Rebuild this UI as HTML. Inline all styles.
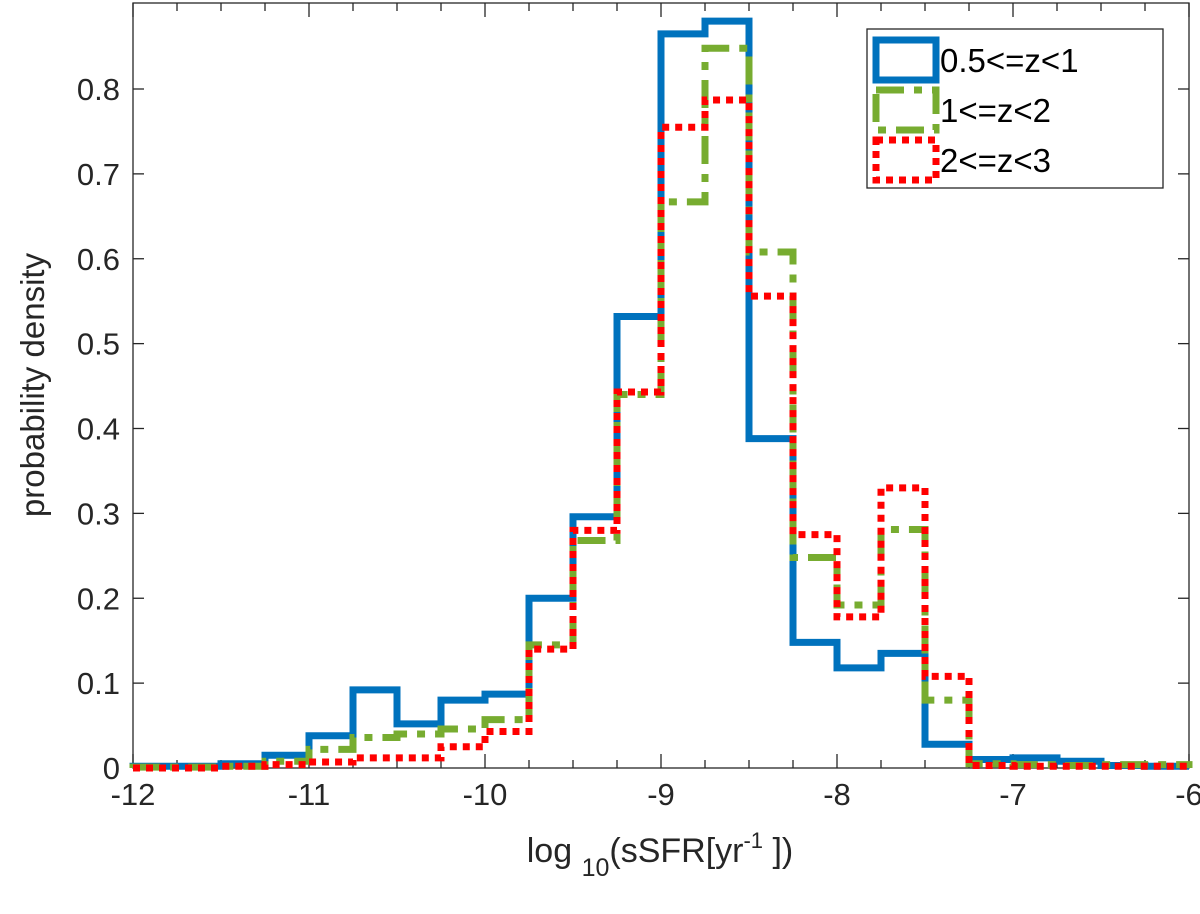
<!DOCTYPE html>
<html><head><meta charset="utf-8"><style>body{margin:0;background:#fff}svg{display:block;font-family:"Liberation Sans",sans-serif}</style></head>
<body>
<svg id="chart" width="1200" height="914"></svg>
<script>
const binEdges=[-12,-11.75,-11.5,-11.25,-11,-10.75,-10.5,-10.25,-10,-9.75,-9.5,-9.25,-9,-8.75,-8.5,-8.25,-8,-7.75,-7.5,-7.25,-7,-6.75,-6.5,-6.25,-6];
const seriesLow=[0.002,0.002,0.005,0.015,0.038,0.092,0.052,0.08,0.087,0.2,0.296,0.532,0.865,0.88,0.388,0.148,0.118,0.135,0.028,0.01,0.012,0.008,0.003,0.002];
const seriesMid=[0.001,0.001,0.002,0.008,0.022,0.036,0.04,0.046,0.057,0.145,0.268,0.44,0.667,0.848,0.608,0.248,0.192,0.281,0.08,0.005,0.004,0.003,0.004,0.004];
const seriesHigh=[0,0,0.002,0.004,0.007,0.012,0.012,0.025,0.043,0.14,0.28,0.443,0.755,0.787,0.556,0.275,0.178,0.33,0.108,0.003,0.002,0.002,0.002,0.002];
const xTicks=[-12,-11,-10,-9,-8,-7,-6];
const yTicks=[0,0.1,0.2,0.3,0.4,0.5,0.6,0.7,0.8];
const NS='http://www.w3.org/2000/svg';
const svg=document.getElementById('chart');
const L=133,R=1189,T=3,B=768;
const xs=v=>L+(v+12)/6*(R-L);
const ys=v=>B-v/0.8*(B-89);
function mk(tag,attrs,parent){const e=document.createElementNS(NS,tag);for(const k in attrs)e.setAttribute(k,attrs[k]);(parent||svg).appendChild(e);return e;}
const ax=mk('g',{});


mk('rect',{x:L,y:T,width:R-L,height:B-T,fill:'none',stroke:'#262626','stroke-width':1.3},ax);
for(let i=0;i<=24;i++){const x=xs(-12+i*0.25);const len=(i%4===0)?14:8;
 mk('line',{x1:x,y1:B,x2:x,y2:B-len,stroke:'#262626','stroke-width':1.3},ax);
 mk('line',{x1:x,y1:T,x2:x,y2:T+len,stroke:'#262626','stroke-width':1.3},ax);}
xTicks.forEach(v=>{const t=mk('text',{x:xs(v),y:B+37,'text-anchor':'middle','font-size':31,fill:'#262626'},ax);t.textContent=v;
 
 });
yTicks.forEach(v=>{const y=ys(v);
 mk('line',{x1:L,y1:y,x2:L+11,y2:y,stroke:'#262626','stroke-width':1.3},ax);
 mk('line',{x1:R,y1:y,x2:R-11,y2:y,stroke:'#262626','stroke-width':1.3},ax);
 const t=mk('text',{x:L-13,y:y+11,'text-anchor':'end','font-size':31,fill:'#262626'},ax);t.textContent=v===0?'0':String(v);
 
 });
const xt=mk('text',{x:660,y:862,'text-anchor':'middle','font-size':34,fill:'#262626'});


xt.innerHTML='log <tspan dy="14" font-size="25">10</tspan><tspan dy="-14">(sSFR[yr</tspan><tspan dy="-14" font-size="22">-1</tspan><tspan dy="14"> ])</tspan>';
const yt=mk('text',{x:0,y:0,transform:'translate(44,385) rotate(-90)','text-anchor':'middle','font-size':33,fill:'#262626'});
yt.textContent='probability density';


function stepPath(vals){let d='M'+xs(binEdges[0])+','+ys(0);
 vals.forEach((v,i)=>{d+=' L'+xs(binEdges[i])+','+ys(v)+' L'+xs(binEdges[i+1])+','+ys(v);});
 d+=' L'+xs(binEdges[vals.length])+','+ys(0);return d;}
const styles=[{vals:seriesLow,c:'#0072BD',dash:'',name:'series-low-z'},{vals:seriesMid,c:'#77AC30',dash:'28,10,8,10',name:'series-mid-z'},{vals:seriesHigh,c:'#FF0000',dash:'7,6',name:'series-high-z'}];
styles.forEach(s=>{const p=mk('path',{d:stepPath(s.vals),fill:'none',stroke:s.c,'stroke-width':7,'stroke-dasharray':s.dash});
 
 });
const lg=mk('g',{});


mk('rect',{x:867,y:29,width:296,height:159,fill:'#fff',stroke:'#262626','stroke-width':1.3},lg);
const labels=['0.5<=z<1','1<=z<2','2<=z<3'];
labels.forEach((lab,i)=>{const cy=60+i*50;
 mk('rect',{x:876,y:cy-20,width:60,height:40,fill:'none',stroke:styles[i].c,'stroke-width':7,'stroke-dasharray':styles[i].dash},lg);
 const t=mk('text',{x:940,y:cy+12,'font-size':33,fill:'#000'},lg);t.textContent=lab;
 
 });
</script>
</body></html>
